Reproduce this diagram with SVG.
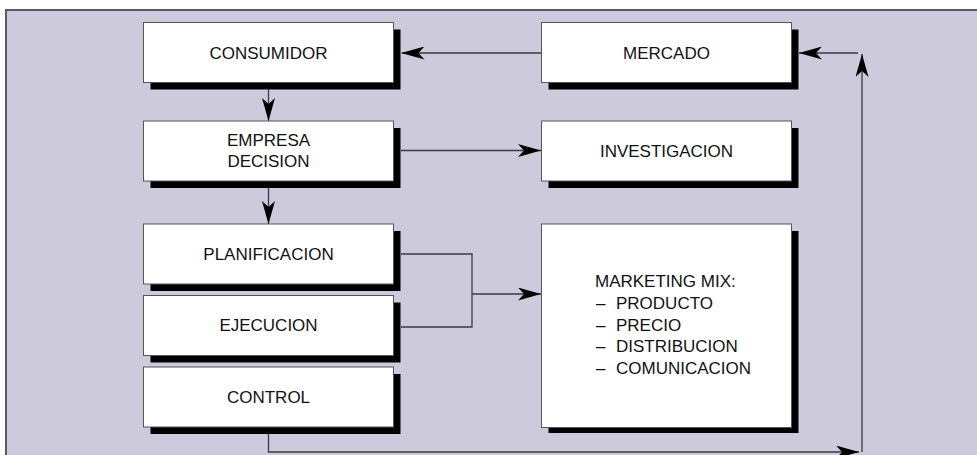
<svg xmlns="http://www.w3.org/2000/svg" width="977" height="455" viewBox="0 0 977 455">
  <defs>
    <marker id="arrow" viewBox="0 0 23 13" refX="23" refY="6.5" markerWidth="23" markerHeight="13" markerUnits="userSpaceOnUse" orient="auto">
      <path d="M0,0 L23,6.5 L0,13 L6,6.5 Z" fill="#000"/>
    </marker>
  </defs>
  <style>
    .panel { fill: #cccadb; stroke: #5a5a66; stroke-width: 2; }
    .shadow { fill: #000; }
    .box { fill: #fff; stroke: #555; stroke-width: 1; }
    .label { font-family: "Liberation Sans", Arial, sans-serif; font-size: 17px; fill: #111; }
    .mid { text-anchor: middle; }
    .conn { fill: none; stroke: #3a3a44; stroke-width: 1.3; }
    .arr { marker-end: url(#arrow); }
  </style>

  <!-- background panel -->
  <rect class="panel" x="6" y="10" width="990" height="470"/>

  <!-- connectors -->
  <g id="connectors">
    <path class="conn arr" d="M541.5,53 H401.5"/>
    <path class="conn arr" d="M858,53 H799"/>
    <path class="conn arr" d="M862,452 V54"/>
    <path class="conn arr" d="M268.5,434 V452 H859"/>
    <path class="conn arr" d="M268.5,89.5 V121"/>
    <path class="conn arr" d="M268.5,188 V224"/>
    <path class="conn arr" d="M401,150.5 H541"/>
    <path class="conn" d="M401,254 H472 V327 H401"/>
    <path class="conn arr" d="M472,294 H541"/>
  </g>

  <!-- left column -->
  <g id="consumidor">
    <rect class="shadow" x="150.5" y="29.5" width="250" height="60"/>
    <rect class="box" x="143.5" y="22.5" width="250" height="60"/>
    <text class="label mid" x="268.5" y="59">CONSUMIDOR</text>
  </g>
  <g id="empresa">
    <rect class="shadow" x="150.5" y="128" width="250" height="60"/>
    <rect class="box" x="143.5" y="121" width="250" height="60"/>
    <text class="label mid" x="268.5" y="145.5">EMPRESA</text>
    <text class="label mid" x="268.5" y="167">DECISION</text>
  </g>
  <g id="planificacion">
    <rect class="shadow" x="150.5" y="231" width="250" height="60"/>
    <rect class="box" x="143.5" y="224" width="250" height="60"/>
    <text class="label mid" x="268.5" y="260">PLANIFICACION</text>
  </g>
  <g id="ejecucion">
    <rect class="shadow" x="150.5" y="302.5" width="250" height="60"/>
    <rect class="box" x="143.5" y="295.5" width="250" height="60"/>
    <text class="label mid" x="268.5" y="331">EJECUCION</text>
  </g>
  <g id="control">
    <rect class="shadow" x="150.5" y="374" width="250" height="60"/>
    <rect class="box" x="143.5" y="367" width="250" height="60"/>
    <text class="label mid" x="268.5" y="403">CONTROL</text>
  </g>

  <!-- right column -->
  <g id="mercado">
    <rect class="shadow" x="548.5" y="29.5" width="250" height="60"/>
    <rect class="box" x="541.5" y="22.5" width="250" height="60"/>
    <text class="label mid" x="666.5" y="59">MERCADO</text>
  </g>
  <g id="investigacion">
    <rect class="shadow" x="548.5" y="128" width="250" height="60"/>
    <rect class="box" x="541.5" y="121" width="250" height="60"/>
    <text class="label mid" x="666.5" y="157">INVESTIGACION</text>
  </g>
  <g id="marketing-mix">
    <rect class="shadow" x="548.5" y="231" width="250" height="202"/>
    <rect class="box" x="541.5" y="224" width="250" height="203.5"/>
    <text class="label" x="595" y="287">MARKETING MIX:</text>
    <text class="label" y="309"><tspan x="596">–</tspan><tspan x="616">PRODUCTO</tspan></text>
    <text class="label" y="330.5"><tspan x="596">–</tspan><tspan x="616">PRECIO</tspan></text>
    <text class="label" y="352"><tspan x="596">–</tspan><tspan x="616">DISTRIBUCION</tspan></text>
    <text class="label" y="374"><tspan x="596">–</tspan><tspan x="616">COMUNICACION</tspan></text>
  </g>
</svg>
